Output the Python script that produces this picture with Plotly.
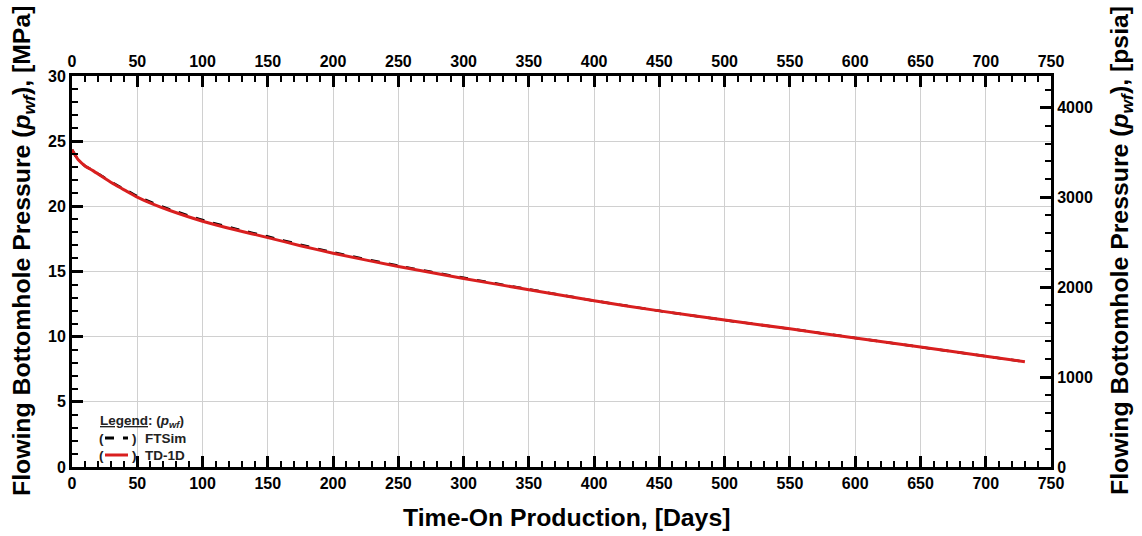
import plotly.graph_objects as go

# ---- data ----
time_days = [0, 2, 5, 10, 16, 25, 33, 42, 50, 62, 75, 100, 125, 150, 175, 200,
             250, 300, 350, 400, 450, 500, 550, 600, 650, 700, 730]
td1d_mpa = [24.35, 24.0, 23.55, 23.1, 22.74, 22.15, 21.65, 21.15, 20.7, 20.17, 19.68,
            18.86, 18.2, 17.6, 16.98, 16.4, 15.38, 14.47, 13.6, 12.75, 11.98,
            11.27, 10.6, 9.9, 9.2, 8.5, 8.07]
ftsim_mpa = [24.35, 24.0, 23.55, 23.1, 22.76, 22.19, 21.71, 21.22, 20.78, 20.26, 19.77,
             18.95, 18.29, 17.68, 17.06, 16.47, 15.44, 14.52, 13.63, 12.76, 11.98,
             11.27, 10.6, 9.9, 9.2, 8.5, 8.07]

x_range = [0, 750]
y_range_mpa = [0, 30]
MPA_TO_PSIA = 145.0377
y_range_psia = [0, 30 * MPA_TO_PSIA]

x_title = "Time-On Production, [Days]"
y_title_left = "Flowing Bottomhole Pressure (<i>p</i><sub><i>wf</i></sub>), [MPa]"
y_title_right = "Flowing Bottomhole Pressure (<i>p</i><sub><i>wf</i></sub>), [psia]"

FONT = "Liberation Sans, Arial, sans-serif"
RED = "#d91f1f"

fig = go.Figure()
fig.add_trace(go.Scatter(x=time_days, y=ftsim_mpa, mode="lines", name="FTSim",
                         line=dict(color="black", width=2.5, dash="dash",
                                   shape="spline", smoothing=0.6),
                         showlegend=False))
fig.add_trace(go.Scatter(x=time_days, y=td1d_mpa, mode="lines", name="TD-1D",
                         line=dict(color=RED, width=3, shape="spline",
                                   smoothing=0.6),
                         showlegend=False))
# invisible trace to activate secondary axes
fig.add_trace(go.Scatter(x=x_range, y=y_range_psia, xaxis="x2", yaxis="y2",
                         mode="markers", marker=dict(opacity=0),
                         hoverinfo="skip", showlegend=False))

tickfont = dict(family=FONT, size=16, color="black", weight="bold")
titlefont = dict(family=FONT, size=24.8, color="black", weight="bold")

common = dict(showline=True, linecolor="black", linewidth=3, ticks="inside",
              ticklen=11, tickwidth=3, tickcolor="black", tickfont=tickfont,
              zeroline=False)

fig.update_layout(
    width=1142, height=536,
    margin=dict(l=72, r=91, t=76, b=69),
    plot_bgcolor="white", paper_bgcolor="white",
    xaxis=dict(range=x_range, dtick=50, showgrid=True, gridcolor="#d0d0d0",
               gridwidth=1,
               minor=dict(dtick=10, ticks="inside", ticklen=6, tickwidth=2,
                          tickcolor="black", showgrid=False),
               **common),
    xaxis2=dict(range=x_range, dtick=50, overlaying="x", side="top",
                showgrid=False,
                minor=dict(dtick=10, ticks="inside", ticklen=6, tickwidth=2,
                           tickcolor="black", showgrid=False),
                **common),
    yaxis=dict(range=y_range_mpa, dtick=5, showgrid=True, gridcolor="#d0d0d0",
               gridwidth=1,
               minor=dict(dtick=1, ticks="inside", ticklen=6, tickwidth=2,
                          tickcolor="black", showgrid=False),
               **common),
    yaxis2=dict(range=y_range_psia, dtick=1000, overlaying="y", side="right",
                anchor="x2", showgrid=False,
                minor=dict(dtick=200, ticks="inside", ticklen=6, tickwidth=2,
                           tickcolor="black", showgrid=False),
                **common),
)

# ---- pixel -> plot-paper conversion for titles / legend decoration ----
PL, PR, PT, PB = 72, 1051, 76, 467
def px_x(v):
    return (v - PL) / (PR - PL)
def px_y(v):
    return (PB - v) / (PB - PT)

# axis titles
fig.add_annotation(x=px_x(566), y=px_y(517), xref="paper", yref="paper",
                   text=x_title, showarrow=False, xanchor="center",
                   yanchor="middle", font=titlefont)
fig.add_annotation(x=px_x(23), y=px_y(251), xref="paper", yref="paper",
                   text=y_title_left, showarrow=False, textangle=-90,
                   xanchor="center", yanchor="middle", font=titlefont)
fig.add_annotation(x=px_x(1121), y=px_y(251), xref="paper", yref="paper",
                   text=y_title_right, showarrow=False, textangle=-90,
                   xanchor="center", yanchor="middle", font=titlefont)

# custom legend (lower left)
legfont = dict(family=FONT, size=13.5, color="#222", weight="bold")
legend_items = [
    (98, 421, "<u>Legend</u>: (<i>p</i><sub><i>wf</i></sub>)"),
    (97, 438, "("), (130, 438, ")"), (143, 438, "FTSim"),
    (97, 455, "("), (130, 455, ")"), (143, 455, "TD-1D"),
]
for x, y, t in legend_items:
    fig.add_annotation(x=px_x(x), y=px_y(y), xref="paper", yref="paper",
                       text=t, showarrow=False, xanchor="left",
                       yanchor="middle", font=legfont)
fig.add_shape(type="line", xref="paper", yref="paper",
              x0=px_x(105), x1=px_x(128), y0=px_y(438), y1=px_y(438),
              line=dict(color="black", width=3, dash="dash"))
fig.add_shape(type="line", xref="paper", yref="paper",
              x0=px_x(105), x1=px_x(128), y0=px_y(455), y1=px_y(455),
              line=dict(color=RED, width=3))

fig.write_html("out.html")
